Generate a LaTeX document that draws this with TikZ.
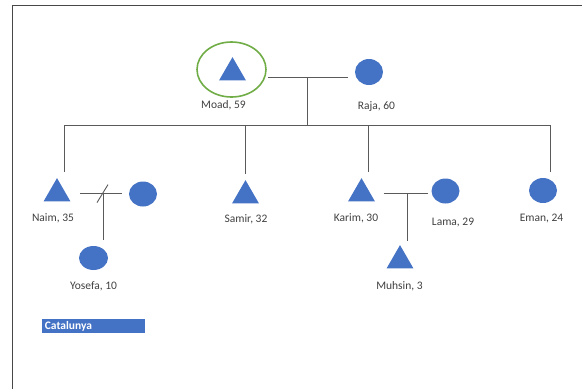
\documentclass[tikz,border=0pt]{standalone}
\usepackage{fontspec}
\setmainfont{Carlito}
\usepackage{tikz}
\usetikzlibrary{shapes.geometric}
\usetikzlibrary{positioning}
\definecolor{kinblue}{HTML}{4472C4}
\definecolor{egogreen}{HTML}{70AD47}
\definecolor{kinline}{HTML}{5A5A5A}
\definecolor{kintext}{HTML}{404040}
\tikzstyle{male} = [regular polygon, regular polygon sides = 3, fill = kinblue, inner sep = 0pt, minimum size = 31pt]
\tikzstyle{female} = [ellipse, fill = kinblue, inner sep = 0pt, minimum width = 28pt, minimum height = 25pt]
\tikzstyle{kin} = [draw = kinline, line width = 0.9pt]
\tikzstyle{kinlabel} = [font = \fontsize{11.5}{13}\selectfont, text = kintext, inner sep = 0pt]

\begin{document}
\begin{tikzpicture}[x = 1pt, y = -1pt]
		% Рамка
		\useasboundingbox (0, 0) rectangle (582, 389);
		\draw[draw = kinline!80!black, line width = 1.4pt] (582, 5.5) -- (12.5, 5.5) -- (12.5, 389);
		% Родители
		\node[ellipse, draw = egogreen, line width = 1.6pt, minimum width = 69pt, minimum height = 55pt] (ego) at (231.5, 69.5) {};
		\node[male] (moad) at (232.5, 72.6) {};
		\node[female, minimum height = 26pt] (raja) at (369, 72) {};
		\node[kinlabel] (lMoad) at (223.5, 105) {Moad, 59};
		\node[kinlabel] (lRaja) at (376.5, 107) {Raja, 60};
		\coordinate (mMoad) at (307, 77.3);
		\coordinate (sib) at (307, 125);
		\draw[kin, shorten < = 1pt, shorten > = 7pt] (mMoad -| ego.east) -- (mMoad -| raja.west);
		\draw[kin] (mMoad) -- (sib);
		% Дети
		\node[male] (naim) at (57, 193.6) {};
		\node[female] (naimW) at (143, 194) {};
		\node[female, minimum width = 29pt, minimum height = 24pt] (yosefa) at (93.5, 258) {};
		\node[male] (samir) at (245.5, 195.6) {};
		\node[male] (karim) at (361.5, 193.6) {};
		\node[female] (lama) at (445.5, 191) {};
		\node[male] (muhsin) at (400, 260.6) {};
		\node[female] (eman) at (543, 190.5) {};
		% Подписи
		\node[kinlabel] (lNaim) at (53, 218) {Naim, 35};
		\node[kinlabel] (lYosefa) at (93.5, 286) {Yosefa, 10};
		\node[kinlabel] (lSamir) at (246, 219) {Samir, 32};
		\node[kinlabel] (lKarim) at (356, 218) {Karim, 30};
		\node[kinlabel] (lLama) at (453, 223) {Lama, 29};
		\node[kinlabel] (lMuhsin) at (399.5, 286) {Muhsin, 3};
		\node[kinlabel] (lEman) at (541.5, 219) {Eman, 24};
		% Линия братьев и сестёр
		\draw[kin, shorten > = 6pt] (sib) -| ([xshift = 7pt]naim.north);
		\draw[kin, shorten > = 6pt] (sib) -| (samir.north);
		\draw[kin, shorten > = 6pt] (sib) -| ([xshift = 6.5pt]karim.north);
		\draw[kin, shorten > = 6pt] (sib) -| ([xshift = 7.5pt]eman.north);
		% Браки
		\coordinate (mNaim) at (103, 193.6);
		\coordinate (mKarim) at (407, 193.6);
		\draw[kin, shorten < = 14pt, shorten > = 7pt] (naim.east) -- (naim.east -| naimW.west);
		\draw[kin] (mNaim) ++ (-6, 9) -- ++ (11, -18);
		\draw[kin, shorten > = 6pt] (mNaim) -- (mNaim |- yosefa.north);
		\draw[kin, shorten < = 13pt, shorten > = 3.5pt] (karim.east) -- (karim.east -| lama.west);
		\draw[kin, shorten > = 4pt] (mKarim) -- (mKarim |- muhsin.north);
		% Регион
		\node[fill = kinblue, text = white, font = \fontsize{11.5}{13}\selectfont\bfseries, anchor = west, minimum height = 14pt, text width = 97pt, align = left, inner xsep = 3pt, inner ysep = 0pt] (region) at (41.7, 326) {Catalunya};
	\end{tikzpicture}
\end{document}
